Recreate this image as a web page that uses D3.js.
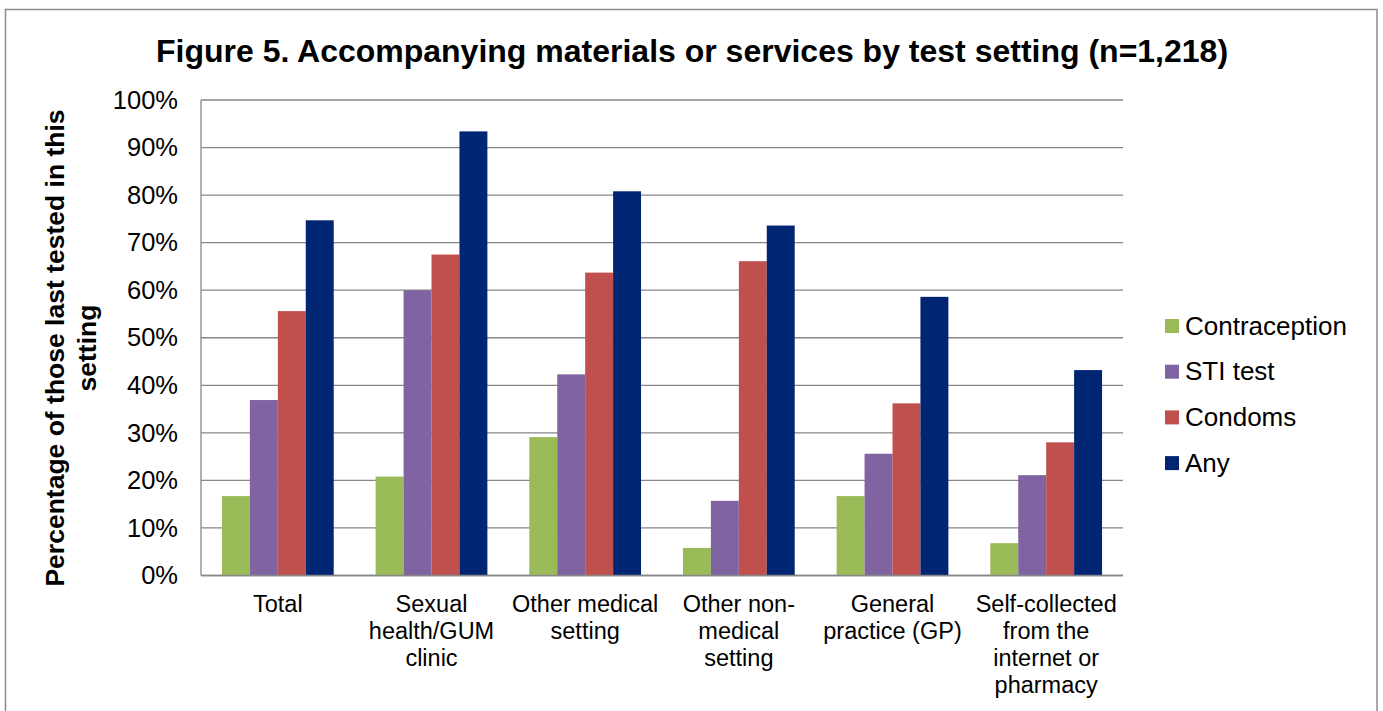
<!DOCTYPE html>
<html>
<head>
<meta charset="utf-8">
<script src="https://cdn.jsdelivr.net/npm/d3@7"></script>
<style>
  html, body { margin: 0; padding: 0; background: #fff; }
  svg { display: block; font-family: "Liberation Sans", Arial, sans-serif; }
</style>
</head>
<body>
<svg id="chart" width="1383" height="711"></svg>
<script>
// Test settings (x-axis categories), each label split into its display lines
const categories = [
  "Total",
  "Sexual health/GUM clinic",
  "Other medical setting",
  "Other non-medical setting",
  "General practice (GP)",
  "Self-collected from the internet or pharmacy"
];
const categoryLines = [
  ["Total"],
  ["Sexual", "health/GUM", "clinic"],
  ["Other medical", "setting"],
  ["Other non-", "medical", "setting"],
  ["General", "practice (GP)"],
  ["Self-collected", "from the", "internet or", "pharmacy"]
];

// Series (percent of those last tested in each setting)
const seriesNames = ["Contraception", "STI test", "Condoms", "Any"];
const contraception = [16.7, 20.8, 29.1, 5.8, 16.7, 6.8];
const stiTest       = [36.9, 60.0, 42.3, 15.7, 25.6, 21.1];
const condoms       = [55.6, 67.5, 63.7, 66.1, 36.2, 28.0];
const any           = [74.7, 93.4, 80.8, 73.6, 58.6, 43.2];

// Y-axis ticks
const yTicks = [0, 10, 20, 30, 40, 50, 60, 70, 80, 90, 100];

const seriesValues = [contraception, stiTest, condoms, any];
const colors = ["#9BBB59", "#8064A2", "#C0504D", "#002673"];

const svg = d3.select("#chart");

// Outer chart frame
svg.append("rect")
  .attr("x", 5.5).attr("y", 9.5)
  .attr("width", 1371.5).attr("height", 720)
  .attr("fill", "#fff")
  .attr("stroke", "#8c8c8c")
  .attr("stroke-width", 1.5);

// Title
svg.append("text")
  .attr("x", 692).attr("y", 62)
  .attr("text-anchor", "middle")
  .attr("font-size", 32)
  .attr("font-weight", "bold")
  .attr("fill", "#000")
  .text("Figure 5. Accompanying materials or services by test setting (n=1,218)");

const plot = { left: 201, right: 1123, top: 100, bottom: 575.5 };

const x0 = d3.scaleBand()
  .domain(categories)
  .range([plot.left, plot.right])
  .paddingInner(1.5 / 5.5)
  .paddingOuter(0.75 / 5.5);

const x1 = d3.scaleBand()
  .domain(seriesNames)
  .range([0, x0.bandwidth()]);

const y = d3.scaleLinear()
  .domain([0, 100])
  .range([plot.bottom, plot.top]);

// Horizontal gridlines
svg.append("g")
  .selectAll("line")
  .data(yTicks)
  .join("line")
  .attr("x1", plot.left).attr("x2", plot.right)
  .attr("y1", d => y(d)).attr("y2", d => y(d))
  .attr("stroke", "#878787")
  .attr("stroke-width", 1.3);

// Bars
const rows = categories.map((c, i) => ({
  category: c,
  values: seriesNames.map((s, j) => ({ series: s, value: seriesValues[j][i], color: colors[j] }))
}));

svg.append("g")
  .selectAll("g")
  .data(rows)
  .join("g")
  .attr("transform", d => `translate(${x0(d.category)},0)`)
  .selectAll("rect")
  .data(d => d.values)
  .join("rect")
  .attr("x", d => x1(d.series))
  .attr("width", x1.bandwidth())
  .attr("y", d => y(d.value))
  .attr("height", d => y(0) - y(d.value))
  .attr("fill", d => d.color);

// Axis lines (left and bottom)
svg.append("line")
  .attr("x1", plot.left).attr("x2", plot.left)
  .attr("y1", plot.top).attr("y2", plot.bottom)
  .attr("stroke", "#878787").attr("stroke-width", 1.3);
svg.append("line")
  .attr("x1", plot.left).attr("x2", plot.right)
  .attr("y1", plot.bottom).attr("y2", plot.bottom)
  .attr("stroke", "#878787").attr("stroke-width", 1.3);

// Y tick labels
const yAxis = d3.axisLeft(y)
  .tickValues(yTicks)
  .tickFormat(d => d + "%")
  .tickSize(0)
  .tickPadding(23);
const yg = svg.append("g")
  .attr("transform", `translate(${plot.left},0)`)
  .call(yAxis);
yg.select(".domain").remove();
yg.selectAll("text")
  .attr("font-size", 25.5)
  .attr("font-family", "Liberation Sans, Arial, sans-serif")
  .attr("fill", "#000");

// Category labels
const catG = svg.append("g")
  .selectAll("text")
  .data(categories)
  .join("text")
  .attr("text-anchor", "middle")
  .attr("font-size", 23.5)
  .attr("fill", "#000")
  .attr("transform", d => `translate(${x0(d) + x0.bandwidth() / 2},612)`);
catG.each(function(d, i) {
  d3.select(this).selectAll("tspan")
    .data(categoryLines[i])
    .join("tspan")
    .attr("x", 0)
    .attr("y", (l, k) => k * 27)
    .text(l => l);
});

// Y-axis title (two lines, rotated)
const yTitle = svg.append("text")
  .attr("transform", "translate(0,348) rotate(-90)")
  .attr("text-anchor", "middle")
  .attr("font-size", 26.5)
  .attr("font-weight", "bold")
  .attr("fill", "#000");
yTitle.append("tspan").attr("x", 0).attr("y", 64).text("Percentage of those last tested in this");
yTitle.append("tspan").attr("x", 0).attr("y", 96).text("setting");

// Legend
const legend = svg.append("g")
  .selectAll("g")
  .data(seriesNames)
  .join("g")
  .attr("transform", (d, i) => `translate(1165,${326 + i * 45.7})`);
legend.append("rect")
  .attr("x", 0).attr("y", -7)
  .attr("width", 14).attr("height", 14)
  .attr("fill", (d, i) => colors[i]);
legend.append("text")
  .attr("x", 20).attr("y", 8.5)
  .attr("font-size", 26)
  .attr("fill", "#000")
  .text(d => d);
</script>
</body>
</html>
